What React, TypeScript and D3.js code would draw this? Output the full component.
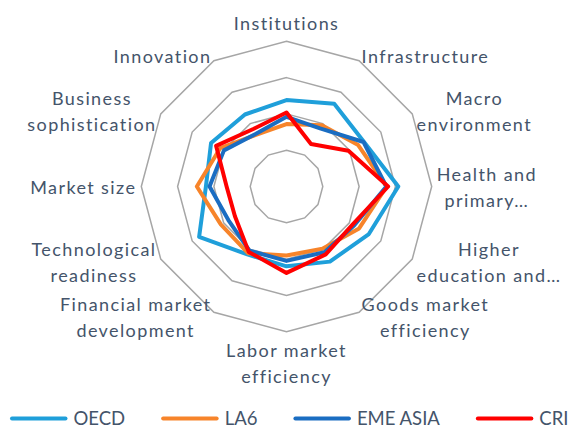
import React, { useEffect, useRef } from "react";
import * as d3 from "d3";

// pillars, clockwise from the top
const categories = [
  "Institutions",
  "Infrastructure",
  "Macro environment",
  "Health and primary…",
  "Higher education and…",
  "Goods market efficiency",
  "Labor market efficiency",
  "Financial market development",
  "Technological readiness",
  "Market size",
  "Business sophistication",
  "Innovation",
];

// how each label wraps
const labelLines = [
  ["Institutions"],
  ["Infrastructure"],
  ["Macro", "environment"],
  ["Health and", "primary…"],
  ["Higher", "education and…"],
  ["Goods market", "efficiency"],
  ["Labor market", "efficiency"],
  ["Financial market", "development"],
  ["Technological", "readiness"],
  ["Market size"],
  ["Business", "sophistication"],
  ["Innovation"],
];

const seriesNames = ["OECD", "LA6", "EME ASIA", "CRI"];
const oecd = [5.38, 5.63, 5.46, 6.08, 5.62, 5.39, 5.2, 5.16, 5.78, 5.22, 5.4, 5.29];
const la6 = [4.72, 4.95, 5.28, 5.76, 5.31, 4.98, 4.9, 5.12, 5.09, 5.47, 5.11, 4.65];
const emeAsia = [4.92, 4.85, 5.45, 5.75, 5.15, 5.09, 5.05, 5.04, 4.85, 5.12, 4.99, 4.68];
const cri = [5.04, 4.35, 4.97, 5.8, 5.1, 5.16, 5.38, 5.08, 4.64, 4.65, 5.24, 4.83];

const scaleMin = 3;
const scaleMax = 7;
const gridTicks = [4, 5, 6, 7];

const seriesColors = ["#1f9fda", "#f7842a", "#1a6dc2", "#ff0000"];
const labelColor = "#44546a";
const gridColor = "#a6a6a6";
const fontFamily = "Lato, 'DejaVu Sans', sans-serif";

const width = 581;
const height = 429;
const cx = 286.5;
const cy = 186.5;
const outerRadius = 145.2;

function App() {
  const svgRef = useRef<SVGSVGElement>(null);

  useEffect(() => {
    const svg = d3.select(svgRef.current);
    svg.selectAll("*").remove();

    const n = categories.length;
    const angle = (i: number) => (i * 2 * Math.PI) / n;
    const rScale = d3.scaleLinear().domain([scaleMin, scaleMax]).range([0, outerRadius]);

    const g = svg.append("g").attr("transform", "translate(" + cx + "," + cy + ")");

    // grid polygons
    const ring = d3
      .lineRadial<number>()
      .angle((d, i) => angle(i))
      .radius((d) => rScale(d))
      .curve(d3.curveLinearClosed);

    g.selectAll(".grid")
      .data(gridTicks)
      .enter()
      .append("path")
      .attr("class", "grid")
      .attr("d", (t) => ring(categories.map(() => t)))
      .attr("fill", "none")
      .attr("stroke", gridColor)
      .attr("stroke-width", 1.5);

    // series
    const allSeries = [oecd, la6, emeAsia, cri];
    g.selectAll(".series")
      .data(allSeries)
      .enter()
      .append("path")
      .attr("class", "series")
      .attr("d", (d) => ring(d))
      .attr("fill", "none")
      .attr("stroke", (d, i) => seriesColors[i])
      .attr("stroke-width", 4)
      .attr("stroke-linejoin", "round");

    // category labels
    const labelRadius = outerRadius + 5;
    const lineH = 26;

    labelLines.forEach((lines, i) => {
      const a = angle(i);
      const s = Math.sin(a);
      const c = Math.cos(a);
      const px = s * labelRadius;
      const py = -c * labelRadius;

      const lg = g.append("g");
      const texts = lines.map((line) =>
        lg
          .append("text")
          .attr("text-anchor", "middle")
          .style("font-family", fontFamily)
          .style("font-size", "18px")
          .style("letter-spacing", "1.4px")
          .style("fill", labelColor)
          .text(line)
      );
      const w = d3.max(texts, (t) => (t.node() as SVGTextElement).getComputedTextLength()) || 0;
      const h = lines.length * lineH;

      let boxCx = px;
      let boxTop = py - h / 2;
      if (Math.abs(s) < 0.01) {
        boxTop = c > 0 ? py - h : py;
      } else {
        boxCx = px + Math.sign(s) * (w / 2);
      }

      texts.forEach((t, j) => {
        t.attr("x", boxCx).attr("y", boxTop + j * lineH + 20);
      });
    });

    // legend
    const legend = svg.append("g").attr("transform", "translate(10,418.5)");
    let x = 0;
    seriesNames.forEach((name, i) => {
      legend
        .append("line")
        .attr("x1", x + 2)
        .attr("x2", x + 55.5)
        .attr("y1", 0)
        .attr("y2", 0)
        .attr("stroke", seriesColors[i])
        .attr("stroke-width", 4)
        .attr("stroke-linecap", "round");
      const t = legend
        .append("text")
        .attr("x", x + 63.5)
        .attr("y", 6)
        .style("font-family", fontFamily)
        .style("font-size", "18.5px")
        .style("fill", labelColor)
        .text(name);
      x += 63.5 + (t.node() as SVGTextElement).getComputedTextLength() + 36;
    });
  }, []);

  return (
    <svg
      ref={svgRef}
      width={width}
      height={height}
      style={{ position: "absolute", left: 0, top: 0, background: "#fff" }}
    />
  );
}

export default App;
